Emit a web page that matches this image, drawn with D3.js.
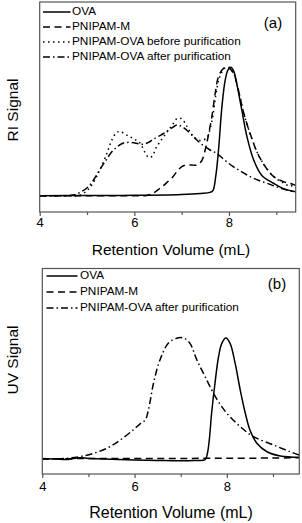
<!DOCTYPE html>
<html><head><meta charset="utf-8">
<script src="https://cdn.jsdelivr.net/npm/d3@7"></script>
<style>body{margin:0;background:#fff}svg{display:block}text{font-family:"Liberation Sans",Arial,sans-serif;fill:#000}</style>
</head><body>
<script>
// ---- Data ----
const xTicks = [4, 6, 8];
const xMinorTicks = [5, 7, 9];
const legendA = ["OVA", "PNIPAM-M", "PNIPAM-OVA before purification", "PNIPAM-OVA after purification"];
const legendB = ["OVA", "PNIPAM-M", "PNIPAM-OVA after purification"];

// Panel (a) RI signal
const riOVA = [[4,0],[5,0.002],[6,0.003],[7,0.01],[7.4,0.018],[7.6,0.026],[7.66,0.04],[7.72,0.15],[7.78,0.36],[7.85,0.69],[7.92,0.9],[7.98,0.98],[8.04,1.0],[8.1,0.97],[8.16,0.88],[8.27,0.67],[8.38,0.46],[8.52,0.28],[8.69,0.16],[8.94,0.097],[9.15,0.055],[9.41,0.03]];
const riPM = [[4,0],[5,0],[6,0],[6.26,0.002],[6.4,0.02],[6.54,0.057],[6.68,0.1],[6.82,0.15],[6.95,0.21],[7.05,0.235],[7.2,0.24],[7.32,0.238],[7.42,0.27],[7.5,0.36],[7.57,0.48],[7.64,0.62],[7.71,0.8],[7.78,0.93],[7.88,0.99],[7.98,1.0],[8.1,0.95],[8.2,0.82],[8.3,0.66],[8.45,0.48],[8.66,0.29],[8.94,0.15],[9.15,0.11],[9.3,0.095],[9.41,0.08]];
const riBefore = [[4,0],[4.7,0],[4.85,0.005],[5.0,0.04],[5.13,0.1],[5.27,0.2],[5.42,0.33],[5.52,0.43],[5.62,0.49],[5.7,0.5],[5.8,0.48],[5.9,0.46],[6.0,0.44],[6.12,0.41],[6.22,0.34],[6.3,0.3],[6.37,0.305],[6.47,0.38],[6.58,0.44],[6.68,0.49],[6.8,0.55],[6.9,0.6],[7.0,0.6],[7.08,0.56],[7.14,0.52],[7.25,0.46],[7.39,0.43],[7.53,0.45],[7.6,0.52],[7.66,0.62],[7.72,0.78],[7.8,0.92],[7.9,0.99],[8.0,1.0],[8.1,0.95],[8.2,0.82],[8.3,0.66],[8.45,0.48],[8.66,0.29],[8.94,0.15],[9.15,0.1],[9.29,0.075],[9.35,0.08],[9.41,0.07]];
const riAfter = [[4,0],[4.6,0],[4.71,0.005],[4.85,0.025],[4.99,0.058],[5.1,0.1],[5.2,0.16],[5.38,0.265],[5.56,0.356],[5.77,0.41],[5.98,0.413],[6.16,0.4],[6.3,0.415],[6.4,0.44],[6.55,0.47],[6.68,0.5],[6.8,0.53],[6.9,0.55],[7.0,0.54],[7.11,0.51],[7.2,0.48],[7.32,0.434],[7.46,0.39],[7.6,0.356],[7.74,0.33],[7.9,0.28],[8.09,0.226],[8.27,0.185],[8.45,0.148],[8.62,0.12],[8.8,0.097],[9.0,0.07],[9.22,0.044],[9.41,0.03]];

// Panel (b) UV signal
const uvOVA = [[4,0.005],[4.3,0],[4.5,-0.005],[4.8,0.01],[5.0,0.005],[5.5,-0.003],[6.0,-0.008],[6.5,-0.012],[7.0,-0.015],[7.3,-0.012],[7.53,-0.005],[7.58,0.05],[7.62,0.16],[7.67,0.38],[7.75,0.65],[7.82,0.845],[7.89,0.956],[7.98,1.0],[8.07,0.956],[8.18,0.79],[8.29,0.57],[8.4,0.378],[8.5,0.24],[8.65,0.13],[8.87,0.06],[9.16,0.025],[9.57,0.014]];
const uvPM = [[4,0],[5,0.004],[6,0.005],[7,0.005],[8,0.006],[9,0.008],[9.57,0.01]];
const uvAfter = [[4,0.002],[4.5,0.005],[4.82,0.02],[5.11,0.047],[5.4,0.088],[5.69,0.157],[5.97,0.24],[6.15,0.3],[6.23,0.32],[6.3,0.405],[6.41,0.626],[6.55,0.818],[6.73,0.956],[6.91,0.998],[7.06,1.0],[7.2,0.956],[7.35,0.818],[7.53,0.68],[7.75,0.515],[8.0,0.378],[8.29,0.267],[8.58,0.184],[9.01,0.116],[9.37,0.06],[9.57,0.033]];

// ---- Styles ----
const dashes = {solid: null, dash: "7,4.5", dot: "1.5,3.5", dashdot: "7,3,1.5,3"};

const svg = d3.select("body").append("svg").attr("width", 302).attr("height", 523);

function panel(cfg) {
  const x = d3.scaleLinear().domain(cfg.xDomain).range([cfg.left, cfg.right]);
  const y = d3.scaleLinear().domain([0, 1]).range([cfg.base, cfg.peak]);
  const g = svg.append("g");
  const id = "clip" + cfg.label.replace(/\W/g, "");
  g.append("clipPath").attr("id", id).append("rect")
    .attr("x", cfg.left).attr("y", cfg.top).attr("width", cfg.right - cfg.left).attr("height", cfg.bottom - cfg.top);
  const line = d3.line().x(d => x(d[0])).y(d => y(d[1])).curve(d3.curveCatmullRom.alpha(0.5));
  const plot = g.append("g").attr("clip-path", `url(#${id})`);
  cfg.series.forEach(s => {
    plot.append("path").datum(s.data).attr("d", line)
      .attr("fill", "none").attr("stroke", "#000").attr("stroke-width", 1.5)
      .attr("stroke-dasharray", dashes[s.style]);
  });
  // frame
  g.append("rect").attr("x", cfg.left).attr("y", cfg.top).attr("width", cfg.right - cfg.left).attr("height", cfg.bottom - cfg.top)
    .attr("fill", "none").attr("stroke", "#555").attr("stroke-width", 1.2);
  // axis
  const ax = g.append("g").attr("transform", `translate(0,${cfg.bottom})`)
    .call(d3.axisBottom(x).tickValues(xTicks).tickSize(4).tickFormat(d3.format("d")));
  ax.select(".domain").remove();
  ax.selectAll("line").attr("stroke", "#555").attr("stroke-width", 1.2);
  ax.selectAll("text").attr("font-size", 13).attr("dy", null).attr("y", cfg.tickLabelY - cfg.bottom).attr("dominant-baseline", "middle")
    .style("font-family", '"Liberation Sans",Arial,sans-serif');
  g.append("g").attr("transform", `translate(0,${cfg.bottom})`)
    .call(d3.axisBottom(x).tickValues(xMinorTicks).tickSize(3).tickFormat(""))
    .call(a => a.select(".domain").remove())
    .selectAll("line").attr("stroke", "#555").attr("stroke-width", 1.2);
  // titles
  g.append("text").attr("x", 171).attr("y", cfg.xTitleY).attr("text-anchor", "middle").attr("dominant-baseline", "middle")
    .attr("font-size", cfg.xTitleSize).text("Retention Volume (mL)");
  g.append("text").attr("transform", `translate(14,${cfg.yTitleY}) rotate(-90)`).attr("text-anchor", "middle")
    .attr("dominant-baseline", "middle").attr("font-size", 15.5).text(cfg.yTitle);
  g.append("text").attr("x", cfg.tagX).attr("y", cfg.tagY).attr("font-size", 15).attr("text-anchor", "middle")
    .attr("dominant-baseline", "middle").text(cfg.label);
  // legend
  cfg.series.forEach((s, i) => {
    const yy = cfg.legY[i];
    g.append("line").attr("x1", cfg.legX1).attr("x2", cfg.legX2).attr("y1", yy).attr("y2", yy)
      .attr("stroke", "#000").attr("stroke-width", 1.5).attr("stroke-dasharray", dashes[s.style]);
    g.append("text").attr("x", cfg.legTextX).attr("y", yy).attr("dominant-baseline", "middle")
      .attr("font-size", 11.8).text(s.name);
  });
}

panel({
  label: "(a)", xDomain: [4, 9.41], left: 39.7, right: 295.7, top: 2, bottom: 212,
  base: 195.7, peak: 67.3, tickLabelY: 224, xTitleY: 251, xTitleSize: 15.5,
  yTitle: "RI Signal", yTitleY: 110, tagX: 273, tagY: 24,
  legX1: 43, legX2: 70.5, legTextX: 72, legY: [12, 27, 42, 57],
  series: [
    {name: legendA[0], data: riOVA, style: "solid"},
    {name: legendA[1], data: riPM, style: "dash"},
    {name: legendA[2], data: riBefore, style: "dot"},
    {name: legendA[3], data: riAfter, style: "dashdot"}
  ]
});

panel({
  label: "(b)", xDomain: [4, 9.57], left: 42.3, right: 299.3, top: 268.5, bottom: 474,
  base: 459, peak: 338, tickLabelY: 488, xTitleY: 514, xTitleSize: 16,
  yTitle: "UV Signal", yTitleY: 360, tagX: 277, tagY: 285,
  legX1: 46.5, legX2: 77.5, legTextX: 80, legY: [276, 292, 308],
  series: [
    {name: legendB[0], data: uvOVA, style: "solid"},
    {name: legendB[1], data: uvPM, style: "dash"},
    {name: legendB[2], data: uvAfter, style: "dashdot"}
  ]
});
</script>
</body></html>
